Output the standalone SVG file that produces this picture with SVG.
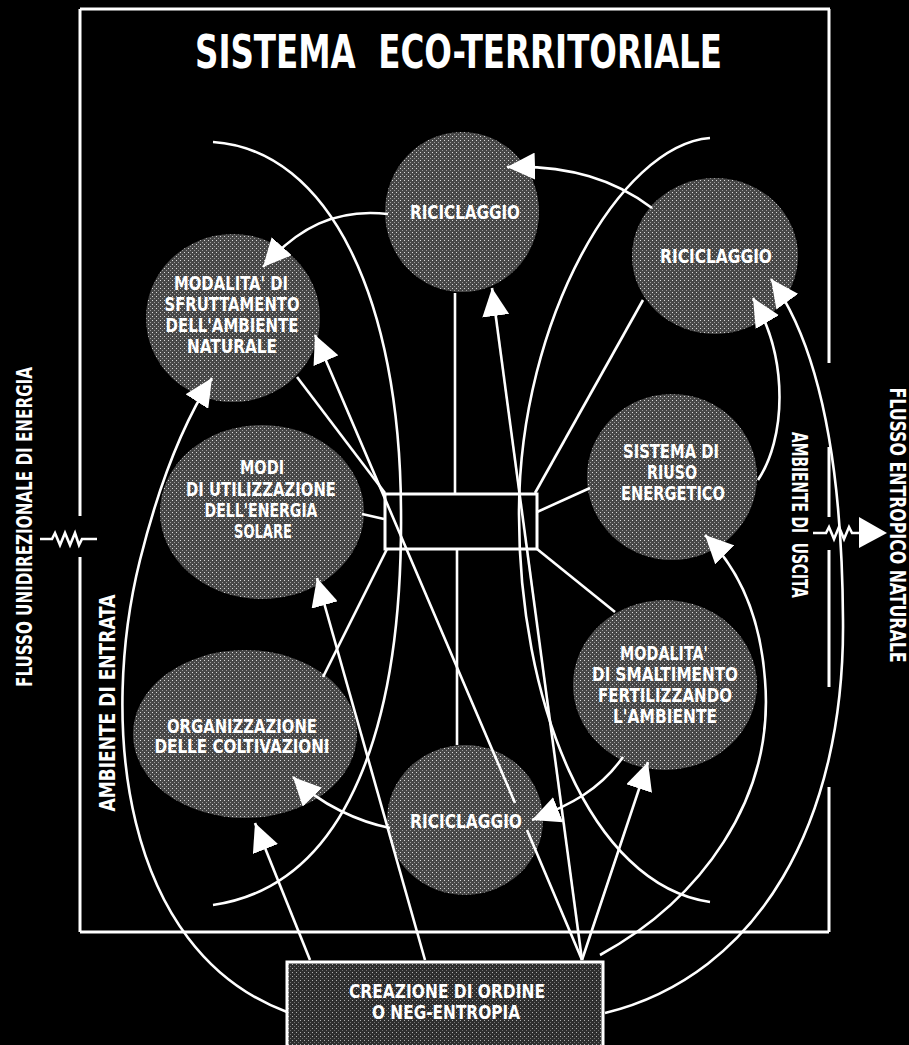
<svg xmlns="http://www.w3.org/2000/svg" width="909" height="1045" viewBox="0 0 909 1045">
<style>
.bg{fill:#000}
.ln{stroke:#fff;stroke-width:2.6;fill:none}
.fr{stroke:#fff;stroke-width:3;fill:none}
.arr{marker-end:url(#ah)}
.nd{fill:url(#dots)}
.t{font-family:"Liberation Sans Narrow","DejaVu Sans Condensed","Liberation Sans",sans-serif;font-weight:bold;fill:#fff;text-anchor:middle;font-size:19px}
.side{font-size:22px}
.title{font-size:46px;text-anchor:start;white-space:pre}
</style>
<defs>
<pattern id="dots" width="4" height="4" patternUnits="userSpaceOnUse"><rect width="4" height="4" fill="#474747"/><rect width="1" height="1" fill="#dadada"/><rect x="2" y="2" width="1" height="1" fill="#9a9a9a"/></pattern>
<pattern id="dots2" width="4" height="4" patternUnits="userSpaceOnUse"><rect width="4" height="4" fill="#2e2e2e"/><rect width="1" height="1" fill="#b0b0b0"/><rect x="2" y="2" width="1" height="1" fill="#707070"/></pattern>
<marker id="ah" markerUnits="userSpaceOnUse" markerWidth="28" markerHeight="27" viewBox="0 0 28 27" refX="28" refY="13.5" orient="auto"><path d="M0,0 L28,13.5 L0,27 Z" fill="#fff"/></marker>
</defs>
<rect class="bg" x="0" y="0" width="909" height="1045"/>

<g id="frame">
<path class="fr" d="M80,9 L830,9 M80,9 L80,516 M80,557 L80,932 M80,932 L829,932 M829,9 L829,363 M829,447 L829,517 M829,550 L829,687 M829,787 L829,932"/>
<path class="ln" d="M40,539 L52,539 L55,533 L60,545 L65,533 L70,545 L75,533 L79,545 L82,539 L97,539"/>
<path class="ln" d="M813,533 L826,533 L829,527 L834,539 L839,527 L844,539 L849,527 L852,533 L862,533"/>
<polygon points="859,517 887,533 859,548" fill="#fff"/>
</g>

<g id="title">
<text class="t title" x="195" y="68" textLength="527" lengthAdjust="spacingAndGlyphs" xml:space="preserve">SISTEMA  ECO-TERRITORIALE</text>
</g>

<g id="side-labels">
<text class="t side" transform="translate(32,527) rotate(-90)" textLength="320" lengthAdjust="spacingAndGlyphs">FLUSSO UNIDIREZIONALE DI ENERGIA</text>
<text class="t side" transform="translate(115,703) rotate(-90)" textLength="217" lengthAdjust="spacingAndGlyphs">AMBIENTE DI ENTRATA</text>
<text class="t side" transform="translate(890,525) rotate(90)" textLength="275" lengthAdjust="spacingAndGlyphs">FLUSSO ENTROPICO NATURALE</text>
<text class="t side" transform="translate(792,515) rotate(90)" textLength="166" lengthAdjust="spacingAndGlyphs" xml:space="preserve">AMBIENTE DI  USCITA</text>
</g>

<g id="hub"><rect x="385" y="494" width="152" height="55" fill="#000" stroke="#fff" stroke-width="3"/></g>

<g id="riciclaggio-top">
<ellipse class="nd" cx="462" cy="212" rx="77" ry="80"/>
<text class="t" x="465" y="219" textLength="110" lengthAdjust="spacingAndGlyphs">RICICLAGGIO</text>
</g>
<g id="riciclaggio-right">
<ellipse class="nd" cx="715" cy="256" rx="83" ry="78"/>
<text class="t" x="716" y="263" textLength="112" lengthAdjust="spacingAndGlyphs">RICICLAGGIO</text>
</g>
<g id="sfruttamento">
<ellipse class="nd" cx="233" cy="318" rx="87" ry="84"/>
<text class="t" x="231" y="290" textLength="114" lengthAdjust="spacingAndGlyphs">MODALITA' DI</text>
<text class="t" x="232" y="311" textLength="135" lengthAdjust="spacingAndGlyphs">SFRUTTAMENTO</text>
<text class="t" x="232" y="332" textLength="133" lengthAdjust="spacingAndGlyphs">DELL'AMBIENTE</text>
<text class="t" x="232" y="353" textLength="90" lengthAdjust="spacingAndGlyphs">NATURALE</text>
</g>
<g id="energia-solare">
<ellipse class="nd" cx="262" cy="512" rx="102" ry="87"/>
<text class="t" x="262" y="474" textLength="44" lengthAdjust="spacingAndGlyphs">MODI</text>
<text class="t" x="261" y="496" textLength="150" lengthAdjust="spacingAndGlyphs">DI UTILIZZAZIONE</text>
<text class="t" x="261" y="517" textLength="113" lengthAdjust="spacingAndGlyphs">DELL'ENERGIA</text>
<text class="t" x="263" y="538" textLength="58" lengthAdjust="spacingAndGlyphs">SOLARE</text>
</g>
<g id="coltivazioni">
<ellipse class="nd" cx="245" cy="734" rx="112" ry="84"/>
<text class="t" x="242" y="733" textLength="150" lengthAdjust="spacingAndGlyphs">ORGANIZZAZIONE</text>
<text class="t" x="242" y="753" textLength="175" lengthAdjust="spacingAndGlyphs">DELLE COLTIVAZIONI</text>
</g>
<g id="riciclaggio-bottom">
<ellipse class="nd" cx="465" cy="820" rx="78" ry="75"/>
<text class="t" x="466" y="828" textLength="112" lengthAdjust="spacingAndGlyphs">RICICLAGGIO</text>
</g>
<g id="riuso">
<ellipse class="nd" cx="672" cy="477" rx="85" ry="83"/>
<text class="t" x="671" y="458" textLength="96" lengthAdjust="spacingAndGlyphs">SISTEMA DI</text>
<text class="t" x="672" y="479" textLength="50" lengthAdjust="spacingAndGlyphs">RIUSO</text>
<text class="t" x="673" y="500" textLength="104" lengthAdjust="spacingAndGlyphs">ENERGETICO</text>
</g>
<g id="smaltimento">
<ellipse class="nd" cx="665" cy="685" rx="92" ry="85"/>
<text class="t" x="664" y="660" textLength="88" lengthAdjust="spacingAndGlyphs">MODALITA'</text>
<text class="t" x="665" y="681" textLength="146" lengthAdjust="spacingAndGlyphs">DI SMALTIMENTO</text>
<text class="t" x="665" y="702" textLength="134" lengthAdjust="spacingAndGlyphs">FERTILIZZANDO</text>
<text class="t" x="665" y="723" textLength="104" lengthAdjust="spacingAndGlyphs">L'AMBIENTE</text>
</g>
<g id="neg-entropia">
<rect x="287" y="962" width="316" height="95" fill="url(#dots2)" stroke="#fff" stroke-width="3"/>
<text class="t" x="447" y="998" textLength="196" lengthAdjust="spacingAndGlyphs">CREAZIONE DI ORDINE</text>
<text class="t" x="446" y="1019" textLength="148" lengthAdjust="spacingAndGlyphs">O NEG-ENTROPIA</text>
</g>

<g id="connectors">
<path class="ln" d="M455,293 L455,493"/>
<path class="ln" d="M457,549 L457,745"/>
<path class="ln" d="M297,377 L385,493"/>
<path class="ln" d="M362,514 L384,519"/>
<path class="ln" d="M387,549 L323,677"/>
<path class="ln" d="M535,493 L643,300"/>
<path class="ln" d="M537,512 L590,488"/>
<path class="ln" d="M537,549 L615,612"/>
<path class="ln" d="M213,142 C330,150 400,300 401,510 C403,720 350,885 213,905"/>
<path class="ln" d="M710,138 C620,145 520,320 519,510 C518,700 590,885 710,902"/>
<path class="ln arr" d="M388,214 C335,208 298,228 263,267"/>
<path class="ln arr" d="M652,208 C615,180 570,165 507,167"/>
<path class="ln arr" d="M287,1012 C120,950 100,720 140,560 C160,480 185,420 212,378"/>
<path class="ln arr" d="M605,1013 C760,975 845,820 843,620 C842,450 815,340 771,279"/>
<path class="ln arr" d="M600,955 C700,900 775,800 765,680 C760,610 735,565 705,535"/>
<path class="ln arr" d="M758,480 C785,440 790,360 753,298"/>
<path class="ln arr" d="M390,828 C360,822 320,805 293,777"/>
<path class="ln arr" d="M623,757 C600,790 570,805 532,820"/>
<path class="ln arr" d="M425,960 L317,578"/>
<path class="ln arr" d="M310,960 L255,823"/>
<path class="ln arr" d="M582,960 L527,830 M515,803 L315,335"/>
<path class="ln arr" d="M582,960 L492,288"/>
<path class="ln arr" d="M582,960 L648,762"/>
</g>
</svg>
